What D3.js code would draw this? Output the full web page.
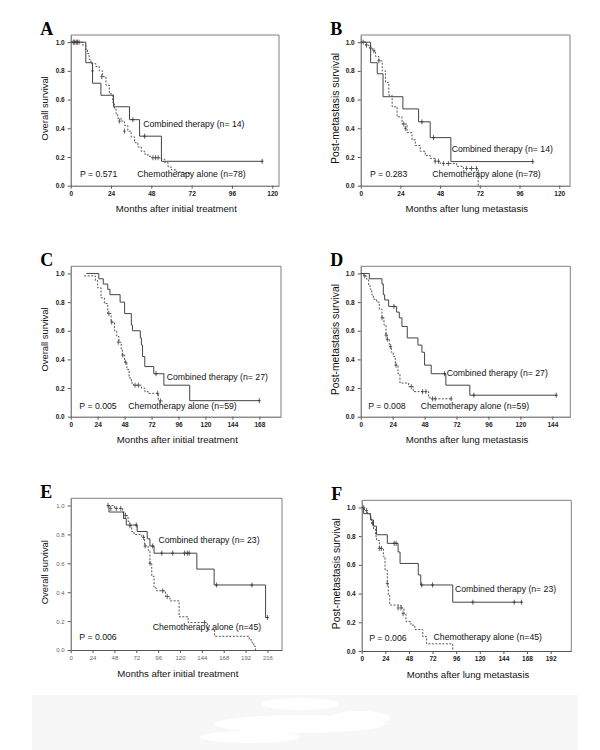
<!DOCTYPE html>
<html>
<head>
<meta charset="utf-8">
<script src="https://cdn.jsdelivr.net/npm/d3@7"></script>
<style>
  body { margin: 0; background: #fff; }
</style>
</head>
<body>
<div id="chart"></div>
<script>
// Kaplan-Meier data: [months, survival]
const combinedA = [[0,1],[9,0.857],[13,0.714],[18,0.63],[25.5,0.55],[35,0.46],[41,0.345],[54,0.17],[114,0.17]];
const chemoA = [[0,1],[7,0.98],[9,0.95],[10,0.92],[11,0.88],[12,0.85],[15,0.83],[17,0.8],[19,0.76],[21,0.7],[23,0.64],[25,0.58],[26,0.54],[27,0.5],[28,0.47],[30,0.45],[32,0.42],[34,0.38],[36,0.34],[38,0.3],[40,0.27],[42,0.24],[44,0.22],[46,0.205],[48,0.195],[54,0.185],[56,0.16],[58,0.13],[60,0.11],[63,0.095],[67,0.085],[71,0.08]];
const censorCombinedA = [[2,1],[4,1],[37,0.46],[44,0.345],[114,0.17]];
const censorChemoA = [[1.5,1],[2.5,1],[3.5,1],[5,1],[13,0.8],[18.5,0.76],[29,0.45],[32,0.38],[49,0.195],[50.5,0.195],[52,0.195]];

const combinedB = [[0,1],[6,0.857],[10,0.78],[13.5,0.62],[25.5,0.535],[35,0.445],[42,0.335],[54.5,0.168],[104,0.168]];
const chemoB = [[0,1],[3,0.98],[5,0.96],[7,0.94],[9,0.9],[11,0.87],[13,0.8],[15,0.72],[17,0.63],[19,0.55],[22,0.48],[25,0.43],[28,0.37],[31,0.32],[33,0.28],[36,0.24],[39,0.21],[42,0.19],[45,0.17],[48,0.155],[58,0.135],[62,0.12],[71,0]];
const censorCombinedB = [[37,0.445],[44,0.335],[104,0.168]];
const censorChemoB = [[1.5,1],[3.5,0.98],[6,0.96],[8,0.94],[11,0.87],[26,0.43],[27,0.4],[45,0.17],[47,0.17],[50,0.155],[53,0.155],[64,0.12],[67,0.12],[70,0.12]];

const combinedC = [[14,1],[25,0.963],[29,0.926],[33,0.889],[35,0.852],[44,0.8],[48,0.72],[54,0.64],[55,0.6],[62,0.55],[63,0.5],[64,0.42],[66,0.35],[74,0.3],[83,0.22],[106,0.112],[168,0.112]];
const chemoC = [[12,0.983],[22,0.95],[24,0.9],[27,0.83],[30,0.79],[33,0.72],[36,0.66],[39,0.6],[41,0.56],[43,0.52],[45,0.465],[46,0.43],[48,0.38],[50,0.33],[52,0.27],[54,0.235],[56,0.22],[63,0.2],[66,0.175],[69,0.163],[78,0.11],[82,0.11]];
const censorCombinedC = [[76,0.3],[168,0.112]];
const censorChemoC = [[34,0.72],[36.5,0.66],[42.4,0.52],[46.3,0.43],[49,0.38],[57.3,0.22],[60.3,0.22],[77.5,0.163],[80,0.11]];

const combinedD = [[0,1],[6.5,0.963],[16,0.926],[17,0.852],[18,0.815],[21,0.77],[27,0.73],[29,0.69],[31,0.63],[35,0.55],[43,0.5],[46,0.45],[48,0.36],[53,0.3],[64,0.22],[82,0.15],[147,0.15]];
const chemoD = [[0,1],[2,0.983],[4.5,0.958],[6,0.92],[7,0.89],[8.3,0.85],[9.5,0.82],[12,0.8],[14,0.75],[16,0.69],[17.5,0.64],[19,0.57],[20,0.54],[21.5,0.49],[23,0.45],[24.5,0.42],[26,0.36],[28,0.3],[29.5,0.235],[36,0.21],[39.5,0.175],[51,0.14],[52,0.125],[68,0.125]];
const censorCombinedD = [[25,0.77],[63,0.3],[85,0.15],[147,0.15]];
const censorChemoD = [[3,0.983],[16,0.69],[19,0.57],[20,0.54],[22.5,0.49],[26.5,0.36],[38,0.21],[46.5,0.175],[49,0.175],[54,0.125],[56,0.125],[68,0.125]];

const combinedE = [[41,1],[42,0.955],[58,0.91],[61,0.865],[73,0.82],[84,0.77],[87,0.72],[91.5,0.67],[138.5,0.56],[157.5,0.45],[214,0.225],[216,0.225]];
const chemoE = [[41,1],[48,0.98],[57,0.955],[60,0.93],[63,0.89],[65,0.86],[67,0.82],[69.5,0.8],[78,0.78],[81,0.72],[85,0.69],[87,0.6],[89,0.51],[91.5,0.43],[94,0.41],[104,0.37],[109,0.34],[119,0.23],[129,0.19],[150,0.14],[158,0.095],[196,0.07],[199,0.05],[201,0.025],[203,0]];
const censorCombinedE = [[41,1],[72,0.865],[90,0.72],[100,0.67],[112,0.67],[125,0.67],[128,0.67],[130,0.67],[160,0.45],[199,0.45],[216,0.225]];
const censorChemoE = [[44,0.98],[50,0.98],[55,0.98],[60,0.93],[65,0.86],[80,0.78],[81.7,0.72],[87,0.6],[101,0.41],[106,0.37],[147,0.19]];

const combinedF = [[0,1],[2,0.957],[9,0.913],[12,0.87],[15,0.81],[26,0.75],[37,0.69],[39,0.61],[57.5,0.53],[60,0.46],[92.5,0.34],[162.5,0.34]];
const chemoF = [[0,1],[3,0.978],[6,0.956],[8.5,0.933],[10,0.89],[12,0.85],[14,0.8],[15.2,0.77],[18,0.715],[22,0.657],[23.7,0.564],[26,0.47],[27,0.39],[28.5,0.32],[40,0.3],[43,0.26],[45,0.205],[50,0.18],[54,0.15],[62,0.1],[66,0.05],[92.5,0]];
const censorCombinedF = [[33,0.75],[35,0.75],[61,0.46],[72,0.46],[113,0.34],[155,0.34],[162.5,0.34]];
const censorChemoF = [[2,1],[5,0.978],[11,0.89],[18,0.715],[20,0.715],[26,0.47],[37,0.3],[40,0.3],[42,0.26]];

// tick values
const yTicks = [0, 0.2, 0.4, 0.6, 0.8, 1.0];
const ticksA = [0, 24, 48, 72, 96, 120];
const ticksB = [0, 24, 48, 72, 96, 120];
const ticksC = [0, 24, 48, 72, 96, 120, 144, 168];
const ticksD = [0, 24, 48, 72, 96, 120, 144];
const ticksE = [0, 24, 48, 72, 96, 120, 144, 168, 192, 216];
const ticksF = [0, 24, 48, 72, 96, 120, 144, 168, 192];

const pValues = ["P = 0.571", "P = 0.283", "P = 0.005", "P = 0.008", "P = 0.006", "P = 0.006"];
const combinedNames = ["Combined therapy (n= 14)", "Combined therapy (n= 14)", "Combined therapy (n= 27)", "Combined therapy (n= 27)", "Combined therapy (n= 23)", "Combined therapy (n= 23)"];
const chemoNames = ["Chemotherapy alone (n=78)", "Chemotherapy alone (n=78)", "Chemotherapy alone (n=59)", "Chemotherapy alone (n=59)", "Chemotherapy alone (n=45)", "Chemotherapy alone (n=45)"];

const OS = "Overall survival", PMS = "Post-metastasis survival";
const XI = "Months after initial treatment", XL = "Months after lung metastasis";

// layout of each panel (pixels) + label anchors (data units)
const panels = [
  { id: "A", combined: combinedA, chemo: chemoA, cc: censorCombinedA, ch: censorChemoA, ticks: ticksA, xMax: 124,
    left: 70.7, right: 279, top: 35, bottom: 185.7, yTitle: OS, xTitle: XI, ySize: 9.4,
    combinedAt: [43.2, 0.431], chemoAt: [39.6, 0.082], pAt: [5.5, 0.082] },
  { id: "B", combined: combinedB, chemo: chemoB, cc: censorCombinedB, ch: censorChemoB, ticks: ticksB, xMax: 126.5,
    left: 360.7, right: 570, top: 35, bottom: 185.7, yTitle: PMS, xTitle: XL, ySize: 10.3,
    combinedAt: [55, 0.255], chemoAt: [43.3, 0.082], pAt: [5.6, 0.082] },
  { id: "C", combined: combinedC, chemo: chemoC, cc: censorCombinedC, ch: censorChemoC, ticks: ticksC, xMax: 187.3,
    left: 70.7, right: 281, top: 266.3, bottom: 416.7, yTitle: OS, xTitle: XI, ySize: 9.4,
    combinedAt: [85.5, 0.279], chemoAt: [51.3, 0.077], pAt: [7.7, 0.077] },
  { id: "D", combined: combinedD, chemo: chemoD, cc: censorCombinedD, ch: censorChemoD, ticks: ticksD, xMax: 157.5,
    left: 360.7, right: 570.3, top: 266.3, bottom: 416.7, yTitle: PMS, xTitle: XL, ySize: 10.3,
    combinedAt: [64.6, 0.308], chemoAt: [45.1, 0.077], pAt: [5.7, 0.077] },
  { id: "E", combined: combinedE, chemo: chemoE, cc: censorCombinedE, ch: censorChemoE, ticks: ticksE, xMax: 232,
    left: 70.7, right: 282, top: 498.3, bottom: 650, yTitle: OS, xTitle: XI, ySize: 9.4, light: true,
    combinedAt: [96.3, 0.759], chemoAt: [90.1, 0.158], pAt: [9.5, 0.092] },
  { id: "F", combined: combinedF, chemo: chemoF, cc: censorCombinedF, ch: censorChemoF, ticks: ticksF, xMax: 213,
    left: 361.7, right: 571.3, top: 500.3, bottom: 651, yTitle: PMS, xTitle: XL, ySize: 10.3,
    combinedAt: [94.8, 0.429], chemoAt: [73, 0.1], pAt: [7.7, 0.088] }
];

const svg = d3.select("#chart").append("svg")
  .attr("width", 600)
  .attr("height", 750)
  .style("font-family", "'Liberation Sans', Arial, sans-serif");

// grey band at the foot of the page
svg.append("rect").attr("x", 32).attr("y", 695).attr("width", 546).attr("height", 55).attr("fill", "#f7f7f7");
const blobs = [[300, 704, 38, 6], [300, 724, 85, 9], [250, 737, 50, 6], [360, 718, 30, 7]];
svg.selectAll(".blob").data(blobs).join("ellipse")
  .attr("class", "blob")
  .attr("cx", d => d[0]).attr("cy", d => d[1]).attr("rx", d => d[2]).attr("ry", d => d[3])
  .attr("fill", "#fff");

panels.forEach((p, i) => {
  const x = d3.scaleLinear().domain([0, p.xMax]).range([p.left, p.right]);
  const y = d3.scaleLinear().domain([0, 1.05]).range([p.bottom, p.top]);
  const g = svg.append("g");

  // top/right frame
  g.append("path")
    .attr("d", `M${p.left},${p.top} H${p.right} V${p.bottom}`)
    .attr("fill", "none")
    .attr("stroke", "#808080");

  const tickColor = p.light ? "#666" : "#222";
  const tickWeight = p.light ? "normal" : "bold";

  const yAxis = g.append("g")
    .attr("transform", `translate(${p.left},0)`)
    .call(d3.axisLeft(y).tickValues(yTicks).tickFormat(d3.format(".1f")).tickSize(3).tickSizeOuter(0).tickPadding(3));
  const xAxis = g.append("g")
    .attr("transform", `translate(0,${p.bottom})`)
    .call(d3.axisBottom(x).tickValues(p.ticks).tickSize(3).tickSizeOuter(0).tickPadding(2.5));

  [yAxis, xAxis].forEach(ax => {
    ax.select(".domain").attr("stroke", "#555");
    ax.selectAll(".tick line").attr("stroke", "#555");
    ax.selectAll(".tick text")
      .attr("fill", tickColor)
      .attr("font-size", p.light ? 6 : 6.5)
      .attr("font-weight", tickWeight)
      .attr("font-family", "'Liberation Sans', Arial, sans-serif");
  });

  const line = d3.line()
    .x(d => x(d[0]))
    .y(d => y(d[1]))
    .curve(d3.curveStepAfter);

  // chemotherapy alone: dashed
  g.append("path")
    .datum(p.chemo)
    .attr("d", line)
    .attr("fill", "none")
    .attr("stroke", "#555")
    .attr("stroke-width", 1)
    .attr("stroke-dasharray", "2,1.5");

  // combined therapy: solid
  g.append("path")
    .datum(p.combined)
    .attr("d", line)
    .attr("fill", "none")
    .attr("stroke", "#444")
    .attr("stroke-width", 1);

  // censor marks
  const plus = d => {
    const cx = x(d[0]), cy = y(d[1]);
    return `M${cx},${cy - 2.5}V${cy + 2.5}M${cx - 1.5},${cy}H${cx + 1.5}`;
  };
  g.selectAll(".cc").data(p.cc).join("path")
    .attr("class", "cc")
    .attr("d", plus)
    .attr("stroke", "#333")
    .attr("stroke-width", 0.8);
  g.selectAll(".ch").data(p.ch).join("path")
    .attr("class", "ch")
    .attr("d", plus)
    .attr("stroke", "#444")
    .attr("stroke-width", 0.8);

  // group labels and p value
  const label = (at, txt) => g.append("text")
    .attr("x", x(at[0]))
    .attr("y", y(at[1]))
    .attr("dy", "0.35em")
    .attr("font-size", 8.7)
    .attr("fill", "#111")
    .text(txt);
  label(p.combinedAt, combinedNames[i]);
  label(p.chemoAt, chemoNames[i]);
  label(p.pAt, pValues[i]);

  // axis titles
  g.append("text")
    .attr("transform", `translate(${p.left - 25.5},${(p.top + p.bottom) / 2 - 2}) rotate(-90)`)
    .attr("text-anchor", "middle")
    .attr("dy", "0.35em")
    .attr("font-size", p.ySize)
    .attr("fill", "#111")
    .text(p.yTitle);
  g.append("text")
    .attr("x", (p.left + p.right) / 2 + 1.5)
    .attr("y", p.bottom + 23.3)
    .attr("text-anchor", "middle")
    .attr("dy", "0.35em")
    .attr("font-size", 9.6)
    .attr("fill", "#111")
    .text(p.xTitle);

  // panel letter
  g.append("text")
    .attr("x", p.left - 30.5)
    .attr("y", p.top)
    .attr("font-family", "'Liberation Serif', 'Times New Roman', serif")
    .attr("font-weight", "bold")
    .attr("font-size", 18)
    .attr("fill", "#000")
    .text(p.id);
});
</script>
</body>
</html>
